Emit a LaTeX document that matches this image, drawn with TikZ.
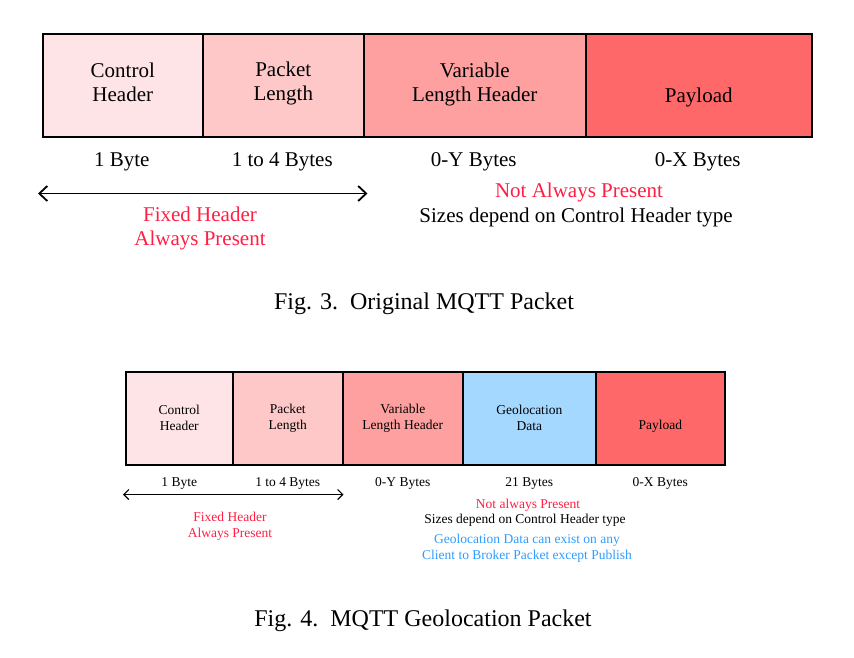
\documentclass[tikz,border=0pt]{standalone}
\usepackage{fontspec}
\setmainfont{Liberation Serif}
\usetikzlibrary{arrows.meta}

\definecolor{ctrlpink}{HTML}{FFE4E7}
\definecolor{lenpink}{HTML}{FFC8C8}
\definecolor{varpink}{HTML}{FFA0A0}
\definecolor{payred}{HTML}{FF6868}
\definecolor{geoblue}{HTML}{A4D8FF}
\definecolor{notred}{HTML}{FF1E44}
\definecolor{geotext}{HTML}{2E9CFF}

\tikzset{
  field/.style={rectangle, draw, line width=1.5pt, anchor=north west, inner sep=0pt},
  bigtext/.style={font=\fontsize{21}{24}\selectfont, align=center, inner sep=0pt},
  smalltext/.style={font=\fontsize{13.5}{16}\selectfont, align=center, inner sep=0pt},
  captext/.style={font=\fontsize{24}{28}\selectfont, inner sep=0pt},
  span/.style={line width=1.8pt, {Straight Barb[length=8pt,width=15pt]}-{Straight Barb[length=8pt,width=15pt]}},
  smallspan/.style={line width=1.2pt, {Straight Barb[length=5pt,width=10pt]}-{Straight Barb[length=5pt,width=10pt]}}
}

\begin{document}
\begin{tikzpicture}[x=1pt, y=-1pt]
% Constants
\def\topY{33} % Top edge of the original packet
\def\topH{103} % Height of the original packet
\def\botY{371} % Top edge of the geolocation packet
\def\botH{93} % Height of the geolocation packet

\useasboundingbox (0,0) rectangle (854,657);

% Fields of the original packet with their names inside and sizes below
\foreach \name/\xl/\xr/\col/\dy/\txt/\size in {ctrl/42/202/ctrlpink/3/{Control\\Header}/1 Byte, len/202/363/lenpink/2/{Packet\\Length}/1 to 4 Bytes, var/363/585/varpink/1/{Variable\\Length Header}/0-Y Bytes, pay/585/811/payred/-12/Payload/0-X Bytes} {
    \pgfmathsetmacro\w{\xr-\xl}
    \node[field, fill=\col, minimum width=\w pt, minimum height=\topH pt] (top-\name) at (\xl,\topY) {};
    \node[bigtext] (top-\name-text) at ([yshift=\dy pt]top-\name.center) {\txt};
    \node[bigtext] (top-\name-size) at ([xshift=-1pt,yshift=-24pt]top-\name.south) {\size};
}

% Fixed header span
\coordinate (top-fixL) at ([xshift=-4pt,yshift=-56pt]top-ctrl.south west);
\coordinate (top-fixR) at ([xshift=3pt,yshift=-56pt]top-len.south east);
\draw[span] (top-fixL) -- (top-fixR);
\node[bigtext, text=notred] (top-fixed) at (200,228) {Fixed Header\\Always Present};
\node[bigtext, text=notred] (top-notalways) at (579,192) {Not Always Present};
\node[bigtext] (top-sizes) at (576,217) {Sizes depend on Control Header type};

\node[captext] (cap-top) at (424,304) {Fig. 3.\ \ Original MQTT Packet};

% Fields of the geolocation packet with their names inside and sizes below
\foreach \name/\xl/\xr/\col/\dy/\txt/\size in {ctrl/125/232/ctrlpink/0/{Control\\Header}/1 Byte, len/232/342/lenpink/0/{Packet\\Length}/1 to 4 Bytes, var/342/462/varpink/0/{Variable\\Length Header}/0-Y Bytes, geo/462/595/geoblue/0/{Geolocation\\Data}/21 Bytes, pay/595/724/payred/-8/Payload/0-X Bytes} {
    \pgfmathsetmacro\w{\xr-\xl}
    \node[field, fill=\col, minimum width=\w pt, minimum height=\botH pt] (bot-\name) at (\xl,\botY) {};
    \node[smalltext] (bot-\name-text) at ([yshift=\dy pt]bot-\name.center) {\txt};
    \node[smalltext] (bot-\name-size) at ([yshift=-18pt]bot-\name.south) {\size};
}

% Fixed header span
\coordinate (bot-fixL) at ([xshift=-2pt,yshift=-29pt]bot-ctrl.south west);
\coordinate (bot-fixR) at ([yshift=-29pt]bot-len.south east);
\draw[smallspan] (bot-fixL) -- (bot-fixR);
\node[smalltext, text=notred] (bot-fixed) at (230,526) {Fixed Header\\Always Present};
\node[smalltext, text=notred] (bot-notalways) at (528,505) {Not always Present};
\node[smalltext] (bot-sizes) at (525,520) {Sizes depend on Control Header type};
\node[smalltext, text=geotext] (bot-geonote) at (527,548) {Geolocation Data can exist on any\\Client to Broker Packet except Publish};

\node[captext] (cap-bot) at (423,621) {Fig. 4.\ \ MQTT Geolocation Packet};

\end{tikzpicture}
\end{document}
